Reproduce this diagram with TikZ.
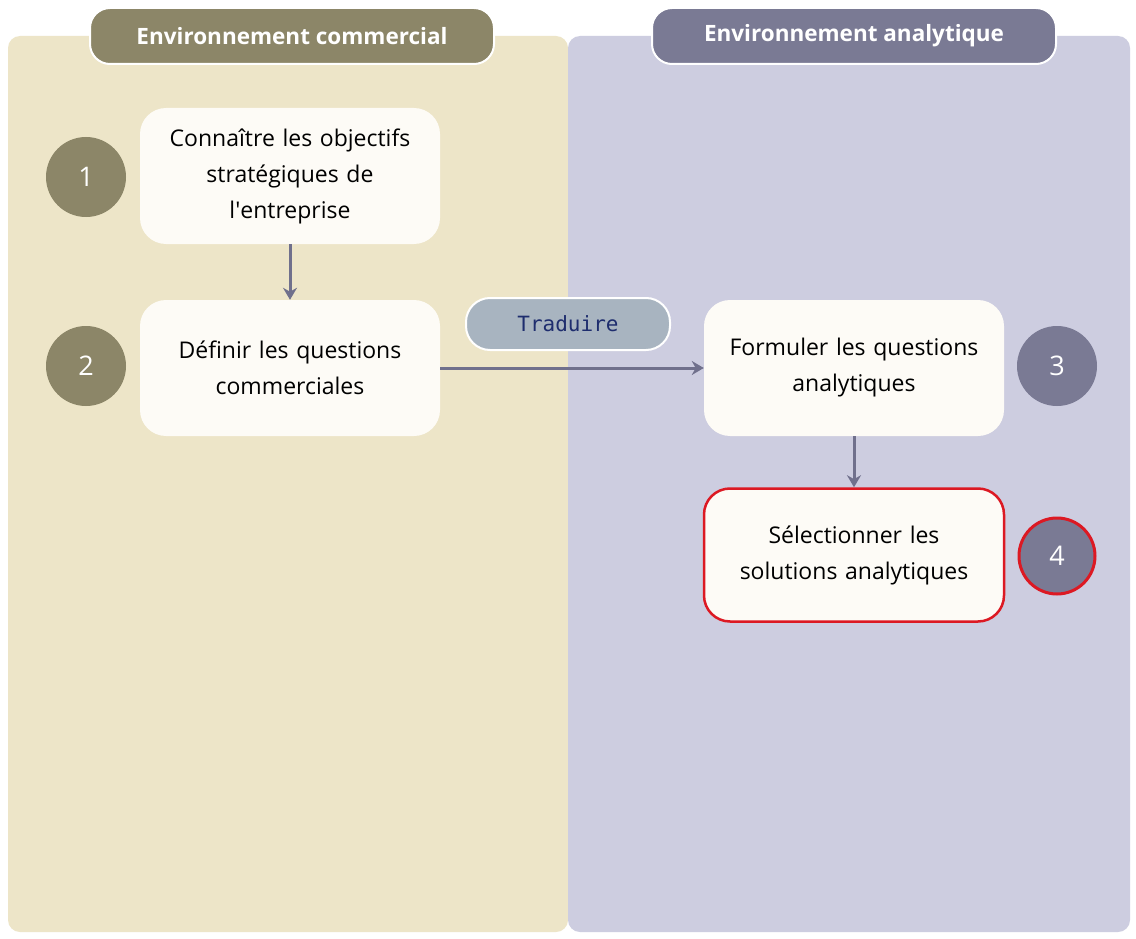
\documentclass[tikz,border=0pt]{standalone}
\usepackage{fontspec}
\setmainfont{Open Sans}
\setmonofont{DejaVu Sans Mono}
\usetikzlibrary{arrows.meta,positioning}
\definecolor{beige}{RGB}{237,229,200}
\definecolor{lavande}{RGB}{205,205,224}
\definecolor{olive}{RGB}{140,134,104}
\definecolor{ardoise}{RGB}{122,122,148}
\definecolor{creme}{RGB}{253,251,246}
\definecolor{fleche}{RGB}{112,112,140}
\definecolor{gris}{RGB}{168,180,192}
\definecolor{marine}{RGB}{30,45,110}
\definecolor{rouge}{RGB}{220,25,35}
\begin{document}
\begin{tikzpicture}[
        x=1pt, y=-1pt,
        panel/.style={rounded corners=12pt},
        header/.style={
            rounded corners=20pt,
            draw=white,
            line width=2pt,
            minimum width=404pt,
            minimum height=56pt,
            text=white,
            font=\fontsize{22.5}{26}\selectfont\bfseries,
        },
        etape/.style={
            rectangle,
            rounded corners=26pt,
            fill=creme,
            minimum width=300pt,
            minimum height=136pt,
            text width=290pt,
            align=center,
            font=\fontsize{23}{36}\selectfont,
        },
        numero/.style={
            circle,
            minimum size=80pt,
            text=white,
            font=\fontsize{27}{30}\selectfont,
        },
        lien/.style={
            draw=fleche,
            line width=3pt,
            -{Stealth[length=12pt,width=14pt]},
        },
    ]
        \useasboundingbox (0,0) rectangle (1136,939);
        \fill [white] (0,0) rectangle (1136,939);
        % panneaux
        \fill [beige, panel] (8,36) rectangle (568,932);
        \fill [lavande, panel] (568,36) rectangle (1130,932);
        \node [header, fill=olive] (hcom) at (292,36) {Environnement commercial};
        \node [header, fill=ardoise] (hana) at (854,36) {Environnement analytique};

        % etapes
        \node [etape] (connaitre) at (290,176) {Connaître les objectifs\\stratégiques de\\l\textquotesingle entreprise};
        \node [etape] (definir) at (290,368) {Définir les questions\\commerciales};
        \node [etape] (formuler) at (854,368) {Formuler les questions\\analytiques};
        \node [etape, draw=rouge, line width=2.5pt, minimum height=133pt] (selection) at (854,555) {Sélectionner les\\solutions analytiques};

        \node [numero, fill=olive] (n1) at (86,177) {1};
        \node [numero, fill=olive] (n2) at (86,366) {2};
        \node [numero, fill=ardoise] (n3) at (1057,366) {3};
        \node [numero, fill=ardoise, draw=rouge, line width=3pt, minimum size=76pt] (n4) at (1057,556) {4};

        \node [rounded corners=24pt, fill=gris, draw=white, line width=2pt,
               minimum width=204pt, minimum height=52pt, text=marine,
               font=\ttfamily\fontsize{21}{24}\selectfont] (traduire) at (568,324) {Traduire};

        % fleches
        \draw [lien] (connaitre) -- (definir);
        \draw [lien] (definir) -- (formuler);
        \draw [lien] (formuler) -- (selection);
\end{tikzpicture}
\end{document}
